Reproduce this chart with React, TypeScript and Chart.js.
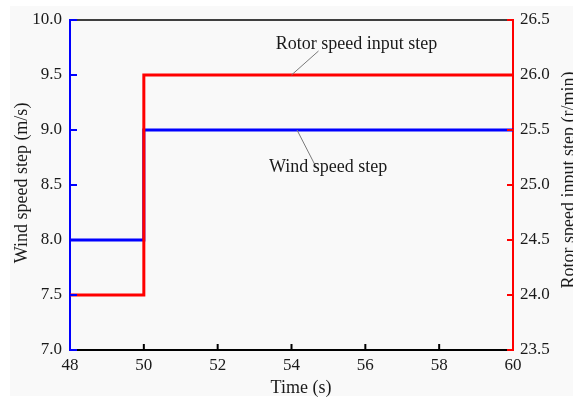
import { useEffect, useRef } from "react";
import { Chart, registerables } from "chart.js";

Chart.register(...registerables);

// Step inputs: time (s) against wind speed (m/s) and rotor speed reference (r/min)
const timeTicks = [48, 50, 52, 54, 56, 58, 60];
const windTime = [48, 50, 50, 60];
const windSpeed = [8.0, 8.0, 9.0, 9.0];
const rotorTime = [48, 50, 50, 60];
const rotorSpeed = [24.0, 24.0, 26.0, 26.0];

const windLabel = "Wind speed step";
const rotorLabel = "Rotor speed input step";
const xTitle = "Time (s)";
const yLeftTitle = "Wind speed step (m/s)";
const yRightTitle = "Rotor speed input step (r/min)";

// where the callout leaders touch the curves (data units)
const rotorNoteTime = 54.0;
const windNoteTime = 54.15;

const SERIF = '"Liberation Serif", "Times New Roman", serif';
const BLUE = "#0000ff";
const RED = "#ff0000";
const INK = "#1a1a1a";

const decor = {
  id: "decor",
  beforeDraw(chart: any) {
    const { ctx, width, height } = chart;
    ctx.save();
    ctx.fillStyle = "#ffffff";
    ctx.fillRect(0, 0, width, height);
    ctx.fillStyle = "#f9f9f9";
    ctx.fillRect(10, 6, width - 10, height - 8);
    ctx.restore();
  },
  afterDraw(chart: any) {
    const { ctx, chartArea: ca, scales } = chart;
    const sx = scales.x;
    const yl = scales.y;
    const yr = scales.y1;
    const seg = (x1: number, y1: number, x2: number, y2: number) => {
      ctx.beginPath();
      ctx.moveTo(x1, y1);
      ctx.lineTo(x2, y2);
      ctx.stroke();
    };
    ctx.save();

    // top frame
    ctx.strokeStyle = "#000";
    ctx.lineWidth = 1.5;
    seg(ca.left, ca.top, ca.right, ca.top);

    // inward tick marks
    ctx.lineWidth = 2;
    ctx.strokeStyle = "#000";
    sx.ticks.forEach((t: any) => {
      if (t.value === sx.min || t.value === sx.max) return;
      const px = sx.getPixelForValue(t.value);
      seg(px, ca.bottom, px, ca.bottom - 6);
    });
    ctx.strokeStyle = BLUE;
    yl.ticks.forEach((t: any) => {
      const py = yl.getPixelForValue(t.value);
      seg(ca.left, py, ca.left + 7, py);
    });
    ctx.strokeStyle = RED;
    yr.ticks.forEach((t: any) => {
      const py = yr.getPixelForValue(t.value);
      seg(ca.right, py, ca.right - 6, py);
    });

    // callouts
    ctx.strokeStyle = "#7a7a7a";
    ctx.lineWidth = 1;
    const rx = sx.getPixelForValue(rotorNoteTime);
    const ry = yr.getPixelForValue(rotorSpeed[rotorSpeed.length - 1]);
    seg(rx, ry, rx + 27, ry - 24);
    const wx = sx.getPixelForValue(windNoteTime);
    const wy = yl.getPixelForValue(windSpeed[windSpeed.length - 1]);
    seg(wx, wy, wx + 19, wy + 37);

    ctx.fillStyle = INK;
    ctx.font = `18px ${SERIF}`;
    ctx.textAlign = "center";
    ctx.textBaseline = "middle";
    ctx.fillText(rotorLabel, rx + 65, ry - 31);
    ctx.fillText(windLabel, wx + 31, wy + 37);

    // axis titles
    ctx.fillText(xTitle, 301, 388);
    ctx.save();
    ctx.translate(22, 183);
    ctx.rotate(-Math.PI / 2);
    ctx.fillText(yLeftTitle, 0, 0);
    ctx.restore();
    ctx.save();
    ctx.translate(569, 180);
    ctx.rotate(-Math.PI / 2);
    ctx.fillText(yRightTitle, 0, 0);
    ctx.restore();

    ctx.restore();
  },
};

export default function App() {
  const ref = useRef<HTMLCanvasElement>(null);

  useEffect(() => {
    if (!ref.current) return;
    const tickFont = { family: SERIF, size: 17 };
    const chart = new Chart(ref.current, {
      type: "line",
      data: {
        datasets: [
          {
            label: rotorLabel,
            data: rotorTime.map((t, i) => ({ x: t, y: rotorSpeed[i] })),
            yAxisID: "y1",
            borderColor: RED,
            borderWidth: 3,
            pointRadius: 0,
            fill: false,
            tension: 0,
            order: 0,
          },
          {
            label: windLabel,
            data: windTime.map((t, i) => ({ x: t, y: windSpeed[i] })),
            yAxisID: "y",
            borderColor: BLUE,
            borderWidth: 3,
            pointRadius: 0,
            fill: false,
            tension: 0,
            order: 1,
          },
        ],
      },
      options: {
        animation: false,
        responsive: false,
        devicePixelRatio: 1,
        layout: { padding: { top: 20, left: 0, right: 0, bottom: 0 } },
        plugins: {
          legend: { display: false },
          tooltip: { enabled: false },
        },
        scales: {
          x: {
            type: "linear",
            position: "bottom",
            min: timeTicks[0],
            max: timeTicks[timeTicks.length - 1],
            afterBuildTicks: (s: any) => {
              s.ticks = timeTicks.map((v) => ({ value: v }));
            },
            ticks: {
              font: tickFont,
              color: INK,
              padding: 5,
              maxRotation: 0,
              autoSkip: false,
              callback: (v: any) => String(v),
            },
            grid: { display: false, drawTicks: false },
            border: { display: true, color: "#000", width: 2 },
            afterFit: (s: any) => {
              s.height = 48;
            },
          },
          y: {
            type: "linear",
            position: "left",
            min: 7,
            max: 10,
            ticks: {
              stepSize: 0.5,
              font: tickFont,
              color: INK,
              padding: 8,
              callback: (v: any) => Number(v).toFixed(1),
            },
            grid: { display: false, drawTicks: false },
            border: { display: true, color: BLUE, width: 2 },
            afterFit: (s: any) => {
              s.width = 70;
            },
          },
          y1: {
            type: "linear",
            position: "right",
            min: 23.5,
            max: 26.5,
            ticks: {
              stepSize: 0.5,
              font: tickFont,
              color: INK,
              padding: 7,
              callback: (v: any) => Number(v).toFixed(1),
            },
            grid: { display: false, drawTicks: false },
            border: { display: true, color: RED, width: 2 },
            afterFit: (s: any) => {
              s.width = 60;
            },
          },
        },
      },
      plugins: [decor],
    });
    return () => chart.destroy();
  }, []);

  return (
    <canvas
      ref={ref}
      width={573}
      height={398}
      style={{ position: "absolute", left: 0, top: 0 }}
    />
  );
}
